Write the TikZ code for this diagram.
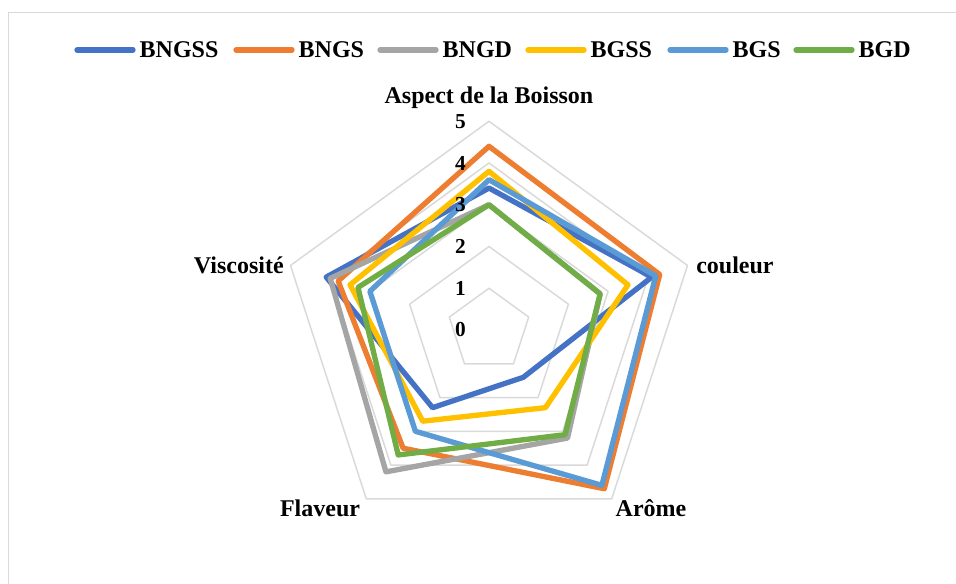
\documentclass[tikz,border=0pt]{standalone}
\usepackage{fontspec}
\setmainfont{Liberation Serif}
\usepackage{tikz}
\usetikzlibrary{positioning}
\definecolor{cBNGSS}{HTML}{4472C4}
\definecolor{cBNGS}{HTML}{ED7D31}
\definecolor{cBNGD}{HTML}{A5A5A5}
\definecolor{cBGSS}{HTML}{FFC000}
\definecolor{cBGS}{HTML}{5B9BD5}
\definecolor{cBGD}{HTML}{70AD47}
\definecolor{gridgray}{HTML}{D9D9D9}
\tikzset{
  gridline/.style={draw=gridgray, line width=1.1pt, line join=round},
  serie/.style={line width=4pt, line join=round, line cap=round},
  lbl/.style={font=\fontsize{18}{21}\selectfont\bfseries, inner sep=0pt},
  num/.style={font=\fontsize{16}{19}\selectfont\bfseries, inner sep=0pt, anchor=east},
}
\begin{document}
\begin{tikzpicture}[x=0.75pt, y=0.75pt]
    \useasboundingbox (0,0) rectangle (956,584);
    \draw[gridgray, line width=1.1pt] (8.3,0) -- (8.3,571.3) -- (956,571.3);

    % legende
    \coordinate (k1) at (77,534);
    \coordinate (k2) at (236,534);
    \coordinate (k3) at (380,534);
    \coordinate (k4) at (528,534);
    \coordinate (k5) at (670,534);
    \coordinate (k6) at (796,534);
    \draw[serie, cBNGSS] (k1) -- ++(56,0) node[lbl, black, right=3pt] (tBNGSS) {BNGSS};
    \draw[serie, cBNGS] (k2) -- ++(56,0) node[lbl, black, right=3pt] (tBNGS) {BNGS};
    \draw[serie, cBNGD] (k3) -- ++(56,0) node[lbl, black, right=3pt] (tBNGD) {BNGD};
    \draw[serie, cBGSS] (k4) -- ++(56,0) node[lbl, black, right=3pt] (tBGSS) {BGSS};
    \draw[serie, cBGS] (k5) -- ++(56,0) node[lbl, black, right=3pt] (tBGS) {BGS};
    \draw[serie, cBGD] (k6) -- ++(56,0) node[lbl, black, right=3pt] (tBGD) {BGD};

    \begin{scope}[shift={(489,254)}, x=31.31pt, y=31.31pt]
        % grille
        \draw[gridline] (90:1) -- (18:1) -- (-54:1) -- (-126:1) -- (162:1) -- cycle;
        \draw[gridline] (90:2) -- (18:2) -- (-54:2) -- (-126:2) -- (162:2) -- cycle;
        \draw[gridline] (90:3) -- (18:3) -- (-54:3) -- (-126:3) -- (162:3) -- cycle;
        \draw[gridline] (90:4) -- (18:4) -- (-54:4) -- (-126:4) -- (162:4) -- cycle;
        \draw[gridline] (90:5) -- (18:5) -- (-54:5) -- (-126:5) -- (162:5) -- cycle;

        % series
        \draw[serie, cBNGSS] (90:3.4) -- (18:4.1) -- (-54:1.4) -- (-126:2.3) -- (162:4.1) -- cycle;
        \draw[serie, cBNGS] (90:4.4) -- (18:4.3) -- (-54:4.7) -- (-126:3.5) -- (162:3.8) -- cycle;
        \draw[serie, cBNGD] (90:3.0) -- (18:2.8) -- (-54:3.2) -- (-126:4.2) -- (162:4.0) -- cycle;
        \draw[serie, cBGSS] (90:3.8) -- (18:3.5) -- (-54:2.3) -- (-126:2.7) -- (162:3.5) -- cycle;
        \draw[serie, cBGS] (90:3.6) -- (18:4.2) -- (-54:4.6) -- (-126:3.0) -- (162:3.0) -- cycle;
        \draw[serie, cBGD] (90:3.0) -- (18:2.8) -- (-54:3.1) -- (-126:3.7) -- (162:3.3) -- cycle;

        \node[num] (n0) at (-0.55,0) {0};
        \node[num] (n1) at (-0.55,1) {1};
        \node[num] (n2) at (-0.55,2) {2};
        \node[num] (n3) at (-0.55,3) {3};
        \node[num] (n4) at (-0.55,4) {4};
        \node[num] (n5) at (-0.55,5) {5};
    \end{scope}

    \node[lbl] (aspect) at (489,486) {Aspect de la Boisson};
    \node[lbl, anchor=west] (couleur) at (696,319) {couleur};
    \node[lbl, anchor=east] (visco) at (284,319) {Viscosité};
    \node[lbl] (flaveur) at (320,76) {Flaveur};
    \node[lbl] (arome) at (651,76) {Arôme};
\end{tikzpicture}
\end{document}
